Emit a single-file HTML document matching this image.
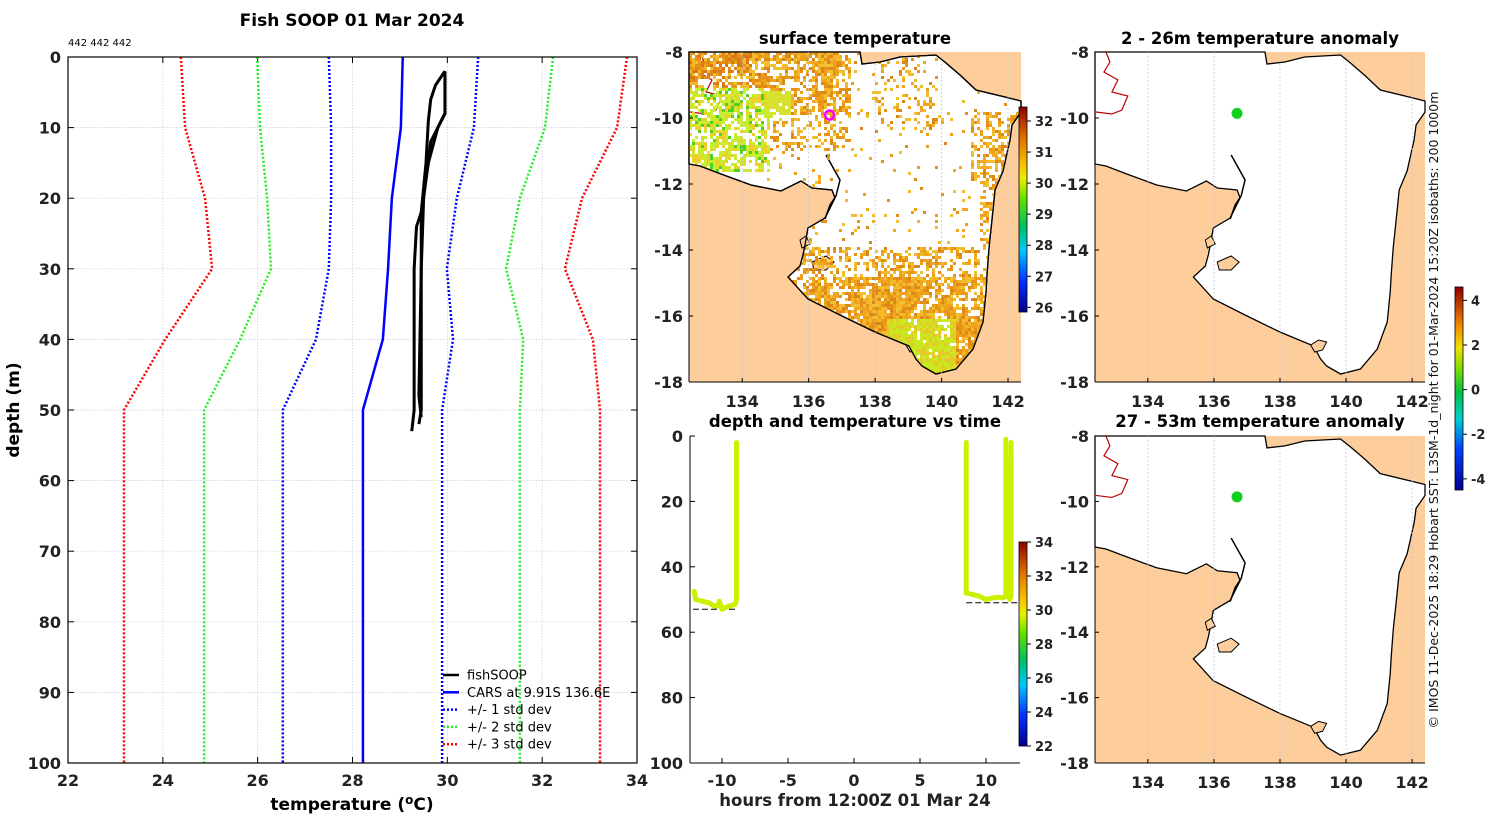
<!DOCTYPE html>
<html><head><meta charset="utf-8">
<style>
html,body{margin:0;padding:0;background:#fff;}
svg{display:block;font-family:"DejaVu Sans","Liberation Sans",sans-serif;}
.b{font-weight:bold;}
</style></head>
<body>
<svg id="fig" width="1500" height="820" viewBox="0 0 1500 820" xmlns="http://www.w3.org/2000/svg">
<defs>
<linearGradient id="jet" x1="0" y1="1" x2="0" y2="0">
<stop offset="0" stop-color="#00008f"/><stop offset="0.15" stop-color="#0030ff"/><stop offset="0.3" stop-color="#00c8ff"/><stop offset="0.42" stop-color="#00c060"/><stop offset="0.55" stop-color="#60e000"/><stop offset="0.65" stop-color="#e8f000"/><stop offset="0.72" stop-color="#f8c000"/><stop offset="0.85" stop-color="#e07000"/><stop offset="1" stop-color="#900000"/>
</linearGradient>
<linearGradient id="anom" x1="0" y1="1" x2="0" y2="0">
<stop offset="0" stop-color="#00008f"/><stop offset="0.2" stop-color="#0040ff"/><stop offset="0.35" stop-color="#00d0d0"/><stop offset="0.48" stop-color="#00c040"/><stop offset="0.6" stop-color="#80e000"/><stop offset="0.7" stop-color="#f0e000"/><stop offset="0.82" stop-color="#f08000"/><stop offset="1" stop-color="#900000"/>
</linearGradient>
<clipPath id="waterClip"><polygon id="wc" points=""/></clipPath>
</defs>
<g id="left"></g>
<g id="mapTop"></g>
<g id="timePlot"></g>
<g id="anomMaps"></g>
</svg>
<script>
// ---------- data: depth profile ----------
const depthLevels = [0,10,20,30,40,50,100];
const carsMean = [29.06,29.02,28.83,28.75,28.64,28.22,28.22];
const std1Lo = [27.5,27.55,27.55,27.5,27.23,26.53,26.53];
const std1Hi = [30.65,30.56,30.2,29.99,30.12,29.89,29.89];
const std2Lo = [25.99,26.05,26.2,26.28,25.63,24.87,24.87];
const std2Hi = [32.23,32.06,31.53,31.24,31.6,31.53,31.53];
const std3Lo = [24.38,24.47,24.89,25.04,24.05,23.18,23.18];
const std3Hi = [33.79,33.58,32.84,32.48,33.07,33.22,33.22];
const fishDepthA = [2,5,8,10,15,22,24,30,50,53];
const fishTempA = [29.95,29.95,29.95,29.8,29.6,29.45,29.35,29.3,29.3,29.25];
const fishDepthB = [2,4,6,9,15,22,30,50,52];
const fishTempB = [29.95,29.75,29.65,29.6,29.55,29.45,29.45,29.45,29.4];
const fishDepthC = [3,8,12,20,30,48,51];
const fishTempC = [29.95,29.95,29.65,29.5,29.45,29.4,29.45];
const tempTicks = [22,24,26,28,30,32,34];
const depthTicks = [0,10,20,30,40,50,60,70,80,90,100];
// ---------- data: depth vs time ----------
const seg1Hours = [-12.1,-12.0,-11.5,-11,-10.6,-10.3,-10.2,-10.0,-9.5,-9.0,-8.9,-8.9];
const seg1Depth = [47.5,50,50.5,51,52,52,50.5,53,52,51.5,50,2];
const seg2Hours = [8.5,8.5,9.0,9.5,10.0,10.5,11.0,11.3,11.5,11.5,11.6,11.8,11.9,11.9];
const seg2Depth = [2,48,48.5,49,50,49.5,49.3,49.5,49,1,48,50,49,2];
const bottom1 = [-12.2,-8.9,53];
const bottom2 = [8.5,12.6,51];
const hourTicks = [-10,-5,0,5,10];
const tdTicks = [0,20,40,60,80,100];
const latTicks = [-8,-10,-12,-14,-16,-18];
const lonTicks = [134,136,138,140,142];
const sstTicks = [26,27,28,29,30,31,32];
const tcTicks = [22,24,26,28,30,32,34];
const anomTicks = [-4,-2,0,2,4];
const shipLon = 136.6, shipLat = -9.91;

const NS='http://www.w3.org/2000/svg';
function el(tag, attrs, parent, text){
  const e=document.createElementNS(NS,tag);
  for(const k in attrs) e.setAttribute(k,attrs[k]);
  if(text!==undefined) e.textContent=text;
  parent.appendChild(e); return e;
}
// ================= LEFT PLOT =================
const L = document.getElementById('left');
const lx0=68,lx1=637,ly0=57,ly1=763;
const xL=t=>lx0+(t-22)/(34-22)*(lx1-lx0);
const yL=d=>ly0+d/100*(ly1-ly0);
tempTicks.forEach(t=>{
  if(t>22&&t<34){const g=el('line',{x1:xL(t),x2:xL(t),y1:ly0,y2:ly1,stroke:'#c8c8e0','stroke-width':0.7,'stroke-dasharray':'1.5,1.5'},L);
  }
  el('line',{x1:xL(t),x2:xL(t),y1:ly1,y2:ly1-6,stroke:'#000'},L);
  el('line',{x1:xL(t),x2:xL(t),y1:ly0,y2:ly0+6,stroke:'#000'},L);
  const tx=el('text',{x:xL(t),y:786,'text-anchor':'middle','font-size':16,class:'b',fill:'#222'},L,String(t));
  
});
depthTicks.forEach(d=>{
  if(d>0&&d<100){const g=el('line',{x1:lx0,x2:lx1,y1:yL(d),y2:yL(d),stroke:'#c8c8e0','stroke-width':0.7,'stroke-dasharray':'1.5,1.5'},L);
  }
  el('line',{x1:lx0,x2:lx0+6,y1:yL(d),y2:yL(d),stroke:'#000'},L);
  el('line',{x1:lx1,x2:lx1-6,y1:yL(d),y2:yL(d),stroke:'#000'},L);
  const tx=el('text',{x:61,y:yL(d)+6,'text-anchor':'end','font-size':16,class:'b',fill:'#222'},L,String(d));
  
});
function prof(temps,depths,color,dash,w,name){
  const p=el('polyline',{points:temps.map((t,i)=>xL(t)+','+yL(depths[i])).join(' '),fill:'none',stroke:color,'stroke-width':w,'stroke-dasharray':dash,'stroke-linejoin':'round'},L);
  
  
}
prof(std3Lo,depthLevels,'#ff0000','2,2',2.5,'std3-low-line');
prof(std3Hi,depthLevels,'#ff0000','2,2',2.5,'std3-high-line');
prof(std2Lo,depthLevels,'#22ee22','2,2',2.5,'std2-low-line');
prof(std2Hi,depthLevels,'#22ee22','2,2',2.5,'std2-high-line');
prof(std1Lo,depthLevels,'#0000ff','2,2',2.5,'std1-low-line');
prof(std1Hi,depthLevels,'#0000ff','2,2',2.5,'std1-high-line');
prof(carsMean,depthLevels,'#0000ff','none',2.5,'cars-mean-line');
prof(fishTempA,fishDepthA,'#000','none',3,'fishsoop-profile-a');
prof(fishTempB,fishDepthB,'#000','none',3,'fishsoop-profile-b');
prof(fishTempC,fishDepthC,'#000','none',3,'fishsoop-profile-c');
el('rect',{x:lx0,y:ly0,width:lx1-lx0,height:ly1-ly0,fill:'none',stroke:'#000','stroke-width':1.2},L);
let t1=el('text',{x:352,y:26,'text-anchor':'middle','font-size':17,class:'b'},L,'Fish SOOP 01 Mar 2024');

let t2=el('text',{x:68,y:46,'font-size':10},L,'442 442 442');

let t3=el('text',{x:0,y:0,'text-anchor':'middle','font-size':17,class:'b',transform:'translate(19,410) rotate(-90)'},L,'depth (m)');

let t4=el('text',{x:352,y:810,'text-anchor':'middle','font-size':17,class:'b'},L);

t4.innerHTML='temperature (<tspan dy="-6" font-size="12">o</tspan><tspan dy="6">C)</tspan>';
const legItems=[['fishSOOP','#000','none'],['CARS at 9.91S 136.6E','#0000ff','none'],['+/- 1 std dev','#0000ff','2,2'],['+/- 2 std dev','#22ee22','2,2'],['+/- 3 std dev','#ff0000','2,2']];
const legG=el('g',{},L);

legItems.forEach((it,i)=>{
  const y=675+i*17.3;
  const g=el('g',{},legG);
  
  el('line',{x1:443,x2:459,y1:y,y2:y,stroke:it[1],'stroke-width':2.5,'stroke-dasharray':it[2]},g);
  el('text',{x:467,y:y+4.5,'font-size':13},g,it[0]);
});

// ================= MAP GEOMETRY =================
const mX0=689,mX1=1021,mY0=52,mY1=382;
const lonX=lon=>mX0+(lon-132.4)/(142.39-132.4)*(mX1-mX0);
const latY=lat=>mY0+(-8-lat)/10*(mY1-mY0);
const waterPts=[[689,52],[860,52],[862,64],[880,62],[900,57],[936,55],[946,63],[960,75],[976,90],[1005,97],[1021,101],[1021,112],[1012,125],[1010,140],[1003,171],[995,190],[993,210],[989,248],[987,275],[986,292],[983,322],[973,349],[956,369],[936,374],[922,366],[916,359],[909,346],[875,332],[842,316],[808,299],[788,277],[800,266],[803,255],[805,245],[808,228],[825,218],[835,198],[832,190],[812,188],[801,181],[781,191],[751,185],[721,174],[700,166],[689,164]];
const islands=[[[906,345],[914,340],[922,342],[918,350],[910,352]],[[812,262],[826,256],[834,262],[826,270],[814,270]],[[800,240],[806,236],[810,244],[802,248]]];
const waterStr=waterPts.map(p=>p.join(',')).join(' ');
document.getElementById('wc').setAttribute('points',waterStr);

function drawBase(parent,tx,ty,sx,sy,withRiver){
  const g=el('g',{transform:`translate(${tx},${ty}) scale(${sx},${sy}) translate(${-mX0},${-mY0})`},parent);
  el('rect',{x:mX0,y:mY0,width:mX1-mX0,height:mY1-mY0,fill:'#fdcd9b'},g);
  const w=el('polygon',{points:waterStr,fill:'#fff',stroke:'#000','stroke-width':1.3},g);
  
  islands.forEach(is=>el('polygon',{points:is.map(p=>p.join(',')).join(' '),fill:'#fdcd9b',stroke:'#000','stroke-width':1},g));
  el('polyline',{points:'825,219 830,205 836,196 840,180 826,155',fill:'none',stroke:'#000','stroke-width':1.5},g);
  if(withRiver) el('polyline',{points:'700,52 704,62 698,72 712,80 706,92 722,96 716,110 706,114 690,112',fill:'none',stroke:'#c00000','stroke-width':1.2},g);
  return g;
}
function gridAndAxes(parent,x0,y0,x1,y1,showX){
  const sx=(x1-x0)/(mX1-mX0), sy=(y1-y0)/(mY1-mY0);
  const X=lon=>x0+(lonX(lon)-mX0)*sx, Y=lat=>y0+(latY(lat)-mY0)*sy;
  lonTicks.forEach(lo=>{
    el('line',{x1:X(lo),x2:X(lo),y1:y0,y2:y1,stroke:'#b8c4e8','stroke-width':0.7,'stroke-dasharray':'2,2'},parent);
    el('line',{x1:X(lo),x2:X(lo),y1:y1,y2:y1-4,stroke:'#000'},parent);
    if(showX){const t=el('text',{x:X(lo),y:y1+25,'text-anchor':'middle','font-size':16,class:'b',fill:'#222'},parent,String(lo));
    }
  });
  latTicks.forEach(la=>{
    if(la>-8&&la>-18) el('line',{x1:x0,x2:x1,y1:Y(la),y2:Y(la),stroke:'#b8c4e8','stroke-width':0.7,'stroke-dasharray':'2,2'},parent);
    el('line',{x1:x0,x2:x0+4,y1:Y(la),y2:Y(la),stroke:'#000'},parent);
    const t=el('text',{x:x0-6,y:Y(la)+6,'text-anchor':'end','font-size':16,class:'b',fill:'#222'},parent,String(la));
    
  });
  el('line',{x1:x0,x2:x0,y1:y0,y2:y1,stroke:'#000','stroke-width':1},parent);
  el('line',{x1:x0,x2:x1,y1:y1,y2:y1,stroke:'#000','stroke-width':1},parent);
  return {X,Y};
}
function colorbar(parent,x,y0,y1,grad,ticks,vmin,vmax,name){
  const r=el('rect',{x:x,y:y0,width:8,height:y1-y0,fill:`url(#${grad})`,stroke:'#000','stroke-width':0.8},parent);
  
  ticks.forEach(v=>{
    const yy=y1-(v-vmin)/(vmax-vmin)*(y1-y0);
    el('line',{x1:x+8,x2:x+12,y1:yy,y2:yy,stroke:'#000'},parent);
    el('text',{x:x+16,y:yy+5,'font-size':13,class:'b',fill:'#222'},parent,String(v));
  });
}

// ================= TOP MIDDLE MAP =================
const MT=document.getElementById('mapTop');
const base=drawBase(MT,mX0,mY0,1,1,true);
const sstG=el('g',{'clip-path':'url(#waterClip)'},base);

let seed=12345;const rnd=()=>{seed=(seed*1103515245+12345)%2147483648;return seed/2147483648;};
// coarse noise grid for clustered texture
const CG=14, cols=Math.ceil(332/CG)+2, rows=Math.ceil(330/CG)+2;
const coarse=[];for(let i=0;i<rows*cols;i++) coarse.push(rnd());
function cn(x,y){
  const fx=(x-689)/CG, fy=(y-52)/CG, ix=Math.floor(fx), iy=Math.floor(fy), ax=fx-ix, ay=fy-iy;
  const g=(i,j)=>coarse[j*cols+i];
  return (g(ix,iy)*(1-ax)+g(ix+1,iy)*ax)*(1-ay)+(g(ix,iy+1)*(1-ax)+g(ix+1,iy+1)*ax)*ay;
}
function dens(x,y){
  if(y<115&&x<850) return 0.8;
  if(y<170&&x<770) return 0.75;
  if(y<150&&x<850) return 0.35;
  if(y<130&&x>870&&x<940) return 0.2;
  if(y>300) return 0.95;
  if(y>275) return 0.85;
  if(y>245) return 0.45;
  if(x>970&&y>110&&y<180) return 0.5;
  if(x>978&&y>=180) return 0.6;
  return 0.04;
}
function sstColor(x,y){
  const r=rnd();
  if(x<770&&y>85&&y<170) return r<0.55?'#c8ec30':(r<0.7?'#50d020':'#ecd028');
  if(y>318&&x>885&&x<955) return r<0.6?'#c8e820':'#e8c828';
  if(y<90&&x<760&&r<0.2) return '#d87818';
  if(x>750&&x<790&&y>90&&y<120) return '#d8e030';
  const c=['#f0a820','#eca018','#f4b828','#e89018','#f0c030','#dc8818'];
  return c[Math.floor(r*c.length)];
}
let sstSvg='';
for(let y=52;y<382;y+=3){for(let x=689;x<1021;x+=3){
  const p=dens(x,y)*(0.35+1.1*cn(x,y));
  if(rnd()<p) sstSvg+=`<rect x="${x}" y="${y}" width="3" height="3" fill="${sstColor(x,y)}"/>`;
}}
sstG.innerHTML=sstSvg;
el('polygon',{points:waterStr,fill:'none',stroke:'#000','stroke-width':1.3},base);
gridAndAxes(MT,mX0,mY0,mX1,mY1,true);
const ship=el('circle',{cx:lonX(shipLon)+1,cy:latY(shipLat),r:4.5,fill:'none',stroke:'#ff00ff','stroke-width':2.5},MT);

colorbar(MT,1019,107,312,'jet',sstTicks,25.85,32.45,'sst-colorbar');
let tt=el('text',{x:855,y:44,'text-anchor':'middle','font-size':16.5,class:'b'},MT,'surface temperature');


// ================= TIME PLOT =================
const TP=document.getElementById('timePlot');
const tx0=690,tx1=1020,ty0=436,ty1=763;
const xT=h=>722+(h+10)*13.2;
const yT=d=>ty0+d/100*(ty1-ty0);
hourTicks.forEach(h=>{
  el('line',{x1:xT(h),x2:xT(h),y1:ty1,y2:ty1-5,stroke:'#000'},TP);
  const t=el('text',{x:xT(h),y:786,'text-anchor':'middle','font-size':16,class:'b',fill:'#222'},TP,String(h));
  
});
tdTicks.forEach(d=>{
  el('line',{x1:tx0,x2:tx0+5,y1:yT(d),y2:yT(d),stroke:'#000'},TP);
  const t=el('text',{x:683,y:yT(d)+6,'text-anchor':'end','font-size':16,class:'b',fill:'#222'},TP,String(d));
  
});
el('line',{x1:tx0,x2:tx0,y1:ty0,y2:ty1,stroke:'#000'},TP);
el('line',{x1:tx0,x2:tx1,y1:ty1,y2:ty1,stroke:'#000'},TP);
[bottom1,bottom2].forEach(b=>{
  const l=el('line',{x1:xT(b[0]),x2:xT(b[1]),y1:yT(b[2]),y2:yT(b[2]),stroke:'#000','stroke-dasharray':'6,3','stroke-width':1},TP);
  
});
[[seg1Hours,seg1Depth],[seg2Hours,seg2Depth]].forEach(s=>{
  const p=el('polyline',{points:s[0].map((h,i)=>xT(h)+','+yT(s[1][i])).join(' '),fill:'none',stroke:'#cdf000','stroke-width':5,'stroke-linejoin':'round','stroke-linecap':'round'},TP);
  
});
colorbar(TP,1019,542,746,'jet',tcTicks,22,34,'time-colorbar');
let tt2=el('text',{x:855,y:427,'text-anchor':'middle','font-size':16.5,class:'b'},TP,'depth and temperature vs time');

let tt3=el('text',{x:855,y:806,'text-anchor':'middle','font-size':16.5,class:'b',fill:'#222'},TP,'hours from 12:00Z 01 Mar 24');


// ================= ANOMALY MAPS =================
const AM=document.getElementById('anomMaps');
[[52,382,'2 - 26m temperature anomaly',44],[436,763,'27 - 53m temperature anomaly',427]].forEach(cfg=>{
  const x0=1095,x1=1425,y0=cfg[0],y1=cfg[1];
  const g=el('g',{},AM);
  
  drawBase(g,x0,y0,(x1-x0)/(mX1-mX0),(y1-y0)/(mY1-mY0),true);
  const ax=gridAndAxes(g,x0,y0,x1,y1,true);
  const c=el('circle',{cx:ax.X(shipLon+0.1),cy:ax.Y(shipLat+0.05),r:5.5,fill:'#10d020'},g);
  
  const t=el('text',{x:1260,y:cfg[3],'text-anchor':'middle','font-size':16.5,class:'b'},g,cfg[2]);
  
});
colorbar(AM,1455,287,490,'anom',anomTicks,-4.5,4.6,'anomaly-colorbar');
let cr=el('text',{x:0,y:0,'text-anchor':'middle','font-size':12.5,transform:'translate(1438,410) rotate(-90)',fill:'#111'},AM,'© IMOS 11-Dec-2025 18:29 Hobart SST: L3SM-1d_night for 01-Mar-2024 15:20Z isobaths: 200  1000m');

</script>
</body></html>
